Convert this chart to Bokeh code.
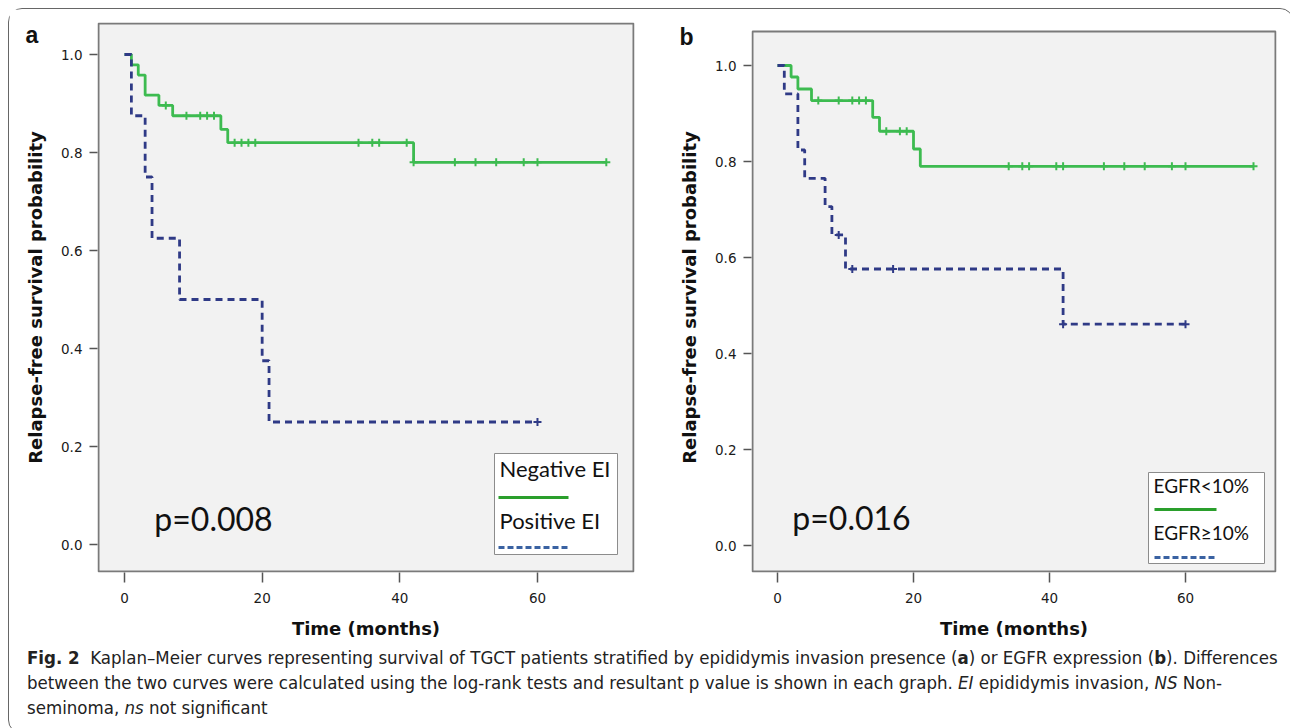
from bokeh.plotting import figure
from bokeh.models import Range1d, FixedTicker, Label, Div
from bokeh.layouts import row, column
from bokeh.embed import file_html
from bokeh.resources import INLINE

# ---------------- data ----------------
# Panel a: epididymis invasion
a_neg_times = [0, 1, 2, 3, 5, 7, 14, 15, 42, 70]
a_neg_surv = [1.0, 0.979, 0.958, 0.917, 0.896, 0.875, 0.847, 0.820, 0.780, 0.780]
a_neg_cens = [6, 9, 11, 12, 13, 16, 17, 18, 19, 34, 36, 37, 41, 42, 48, 51, 54, 58, 60, 70]
a_pos_times = [0, 1, 3, 4, 8, 20, 21, 60]
a_pos_surv = [1.0, 0.875, 0.75, 0.625, 0.5, 0.375, 0.25, 0.25]
a_pos_cens = [60]
a_labels = ["Negative EI", "Positive EI"]
a_pvalue = "p=0.008"

# Panel b: EGFR expression
b_low_times = [0, 2, 3, 5, 14, 15, 20, 21, 70]
b_low_surv = [1.0, 0.976, 0.951, 0.927, 0.892, 0.863, 0.826, 0.790, 0.790]
b_low_cens = [6, 9, 11, 12, 13, 16, 18, 19, 34, 36, 37, 41, 42, 48, 51, 54, 58, 60, 70]
b_high_times = [0, 1, 3, 4, 7, 8, 10, 42, 60]
b_high_surv = [1.0, 0.941, 0.824, 0.765, 0.706, 0.647, 0.576, 0.461, 0.461]
b_high_cens = [9, 11, 17, 42, 60]
b_labels = ["EGFR<10%", "EGFR\u226510%"]
b_pvalue = "p=0.016"

x_ticks = [0, 20, 40, 60]
y_ticks = [0.0, 0.2, 0.4, 0.6, 0.8, 1.0]
x_title = "Time (months)"
y_title = "Relapse-free survival probability"

GREEN = "#3dbb50"
NAVY = "#2f3a86"
LEG_GREEN = "#2a9f2c"
LEG_BLUE = "#3a62a2"
PANEL_BG = "#f2f2f2"
FRAME_COLOR = "#7a7a7a"
TICK_FONT = "DejaVu Sans"
LEG_FONT = "Lato"


def surv_at(times, surv, t):
    s = surv[0]
    for ti, si in zip(times, surv):
        if ti <= t:
            s = si
    return s


class Conv:
    """page-pixel -> data conversion for a panel (layout only)."""
    def __init__(self, x0, sx, y0, sy):
        self.x0, self.sx, self.y0, self.sy = x0, sx, y0, sy

    def x(self, px):
        return (px - self.x0) / self.sx

    def y(self, py):
        return (self.y0 - py) / self.sy


FRAME_TOP = 22      # page px of the Bokeh frame top (same for both panels)
FRAME_BOTTOM = 572


def make_panel(conv, xl, xr, box_top, width, left, curves, legend, pval, letter):
    top = FRAME_TOP - 9
    height = 634
    p = figure(width=width, height=height,
               x_range=Range1d(conv.x(xl), conv.x(xr)),
               y_range=Range1d(conv.y(FRAME_BOTTOM), conv.y(FRAME_TOP)),
               output_backend="svg", toolbar_location=None,
               min_border_left=left, min_border_top=top,
               min_border_right=width - left - (xr - xl),
               min_border_bottom=height - top - (FRAME_BOTTOM - FRAME_TOP))
    p.background_fill_color = "white"
    p.border_fill_color = "white"
    p.outline_line_color = None
    p.xgrid.visible = False
    p.ygrid.visible = False
    # grey plotting box (its top may sit below the frame top)
    p.quad(left=[conv.x(xl + 1)], right=[conv.x(xr - 1)],
           top=[conv.y(box_top + 1)], bottom=[conv.y(FRAME_BOTTOM - 1)],
           fill_color=PANEL_BG, line_color=FRAME_COLOR, line_width=2,
           level="underlay")

    p.xaxis.ticker = FixedTicker(ticks=x_ticks)
    p.yaxis.ticker = FixedTicker(ticks=y_ticks)
    p.yaxis.major_label_overrides = {t: f"{t:.1f}" for t in y_ticks}
    for ax in (p.xaxis[0], p.yaxis[0]):
        ax.axis_line_color = None
        ax.minor_tick_line_color = None
        ax.major_tick_line_color = "#555555"
        ax.major_tick_line_width = 1.5
        ax.major_tick_in = 0
        ax.major_label_text_font = TICK_FONT
        ax.major_label_text_font_size = "13.5px"
        ax.major_label_text_color = "#1a1a1a"
        ax.axis_label_text_font = TICK_FONT
        ax.axis_label_text_font_style = "bold"
        ax.axis_label_text_font_size = "18px"
        ax.axis_label_text_color = "#111111"
    p.xaxis.major_tick_out = 10
    p.yaxis.major_tick_out = 8
    p.xaxis.major_label_standoff = 10
    p.yaxis.major_label_standoff = 7
    p.xaxis.axis_label = x_title
    p.yaxis.axis_label = y_title
    p.xaxis.axis_label_standoff = 12
    p.yaxis.axis_label_standoff = 12

    for times, surv, cens, color, dash in curves:
        p.step(times, surv, mode="after", line_color=color, line_width=2.8,
               line_dash=dash)
        cy = [surv_at(times, surv, t) for t in cens]
        p.scatter(cens, cy, marker="cross", size=8, line_color=color,
                  line_width=2)

    # legend box (text above its line sample, as in the reference)
    (bl, br, bt, bb), items = legend
    p.quad(left=[conv.x(bl)], right=[conv.x(br)], top=[conv.y(bt)],
           bottom=[conv.y(bb)], fill_color="white", line_color="#8c8c8c",
           line_width=1)
    for text, ty, ly, lx0, lx1, color, dash, fs in items:
        p.add_layout(Label(x=conv.x(bl + 5), y=conv.y(ty), text=text,
                           text_font=LEG_FONT, text_font_size=fs,
                           text_color="#111111", text_baseline="middle"))
        p.segment(x0=[conv.x(lx0)], y0=[conv.y(ly)], x1=[conv.x(lx1)],
                  y1=[conv.y(ly)], line_color=color, line_width=3,
                  line_dash=dash)

    px, py, ptext = pval
    p.add_layout(Label(x=conv.x(px), y=conv.y(py), text=ptext,
                       text_font=LEG_FONT, text_font_size="32px",
                       text_color="#111111", text_align="center",
                       text_baseline="middle"))
    # panel letter lives in the left side panel so that it is not clipped
    lx, ly, ltext = letter
    p.add_layout(Label(x=conv.x(lx), y=conv.y(ly), text=ltext,
                       text_font="Liberation Sans", text_font_style="bold",
                       text_font_size="23px", text_color="#111111",
                       text_baseline="alphabetic"), "left")
    return p


conv_a = Conv(124, 6.883, 544, 490)
conv_b = Conv(778, 6.8, 545, 480)

pa = make_panel(
    conv_a, 97, 634, 22, 636, 88,
    [(a_neg_times, a_neg_surv, a_neg_cens, GREEN, "solid"),
     (a_pos_times, a_pos_surv, a_pos_cens, NAVY, "7 5")],
    ((494, 617, 453, 554),
     [(a_labels[0], 468, 497, 498, 568, LEG_GREEN, "solid", "22px"),
      (a_labels[1], 520, 547, 498, 568, LEG_BLUE, "6 3", "22px")]),
    (213, 518, a_pvalue), (25, 34, "a"))

pb = make_panel(
    conv_b, 752, 1277, 30, 638, 106,
    [(b_low_times, b_low_surv, b_low_cens, GREEN, "solid"),
     (b_high_times, b_high_surv, b_high_cens, NAVY, "7 5")],
    ((1149, 1265, 472, 563),
     [(b_labels[0], 485, 509, 1155, 1217, LEG_GREEN, "solid", "19px"),
      (b_labels[1], 532, 557, 1155, 1217, LEG_BLUE, "6 3", "19px")]),
    (852, 517, b_pvalue), (680, 36, "b"))

caption_html = (
    "<div style='margin-top:-3px'>"
    "<b>Fig. 2</b>&nbsp; Kaplan\u2013Meier curves representing survival of TGCT patients "
    "stratified by epididymis invasion presence (<b>a</b>) or EGFR expression (<b>b</b>). "
    "Differences<br>between the two curves were calculated using the log-rank tests and "
    "resultant p value is shown in each graph. <i>EI</i> epididymis invasion, <i>NS</i> "
    "Non-<br>seminoma, <i>ns</i> not significant</div>")

cap = Div(text=caption_html, width=1274, height=80,
          styles={"font-family": "'Liberation Sans Narrow', 'DejaVu Sans Condensed', Roboto, sans-serif",
                  "font-size": "18.5px", "line-height": "25px", "color": "#222222",
                  "padding-left": "13px", "padding-top": "0px",
                  "white-space": "nowrap"})

layout = column(row(pa, pb), cap, margin=(8, 0, 0, 8),
                styles={"border": "1px solid #666666", "border-radius": "14px"})

open("out.html", "w").write(file_html(layout, INLINE))
